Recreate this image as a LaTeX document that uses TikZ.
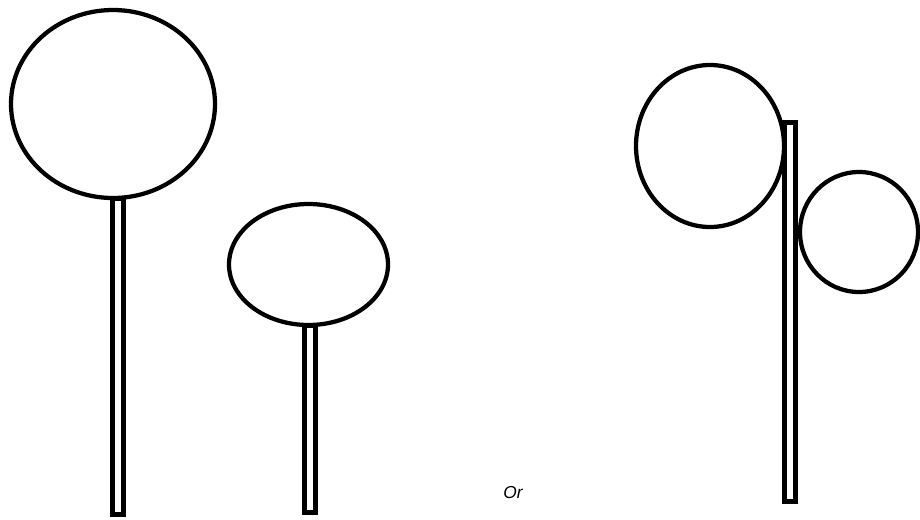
\documentclass[tikz,border=0pt]{standalone}
\usepackage{fontspec}
\newfontfamily\labelfont{Liberation Sans}
\usepackage{tikz}

\begin{document}
\begin{tikzpicture}[
  x=0.75pt, y=-0.75pt,
  head/.style={draw, line width=3.2pt},
  stem/.style={draw, line width=3.75pt},
  word/.style={font=\labelfont\itshape\fontsize{13}{15}\selectfont, inner sep=0pt}
]
\useasboundingbox (0,0) rectangle (920,519);

% left pair
\draw[stem] (112.5,198) rectangle (123.5,514);
\draw[head] (113,104) ellipse [x radius=102, y radius=94];
\draw[stem] (304,325) rectangle (315,512.5);
\draw[head] (308.5,264.5) ellipse [x radius=79.5, y radius=60.5];

\node[word] (or) at (513,493) {Or};

% right pair
\draw[stem] (784,122.5) rectangle (795,501.5);
\draw[head] (710,146) ellipse [x radius=74, y radius=81];
\draw[head] (859,232) ellipse [x radius=59, y radius=60];
\end{tikzpicture}
\end{document}
